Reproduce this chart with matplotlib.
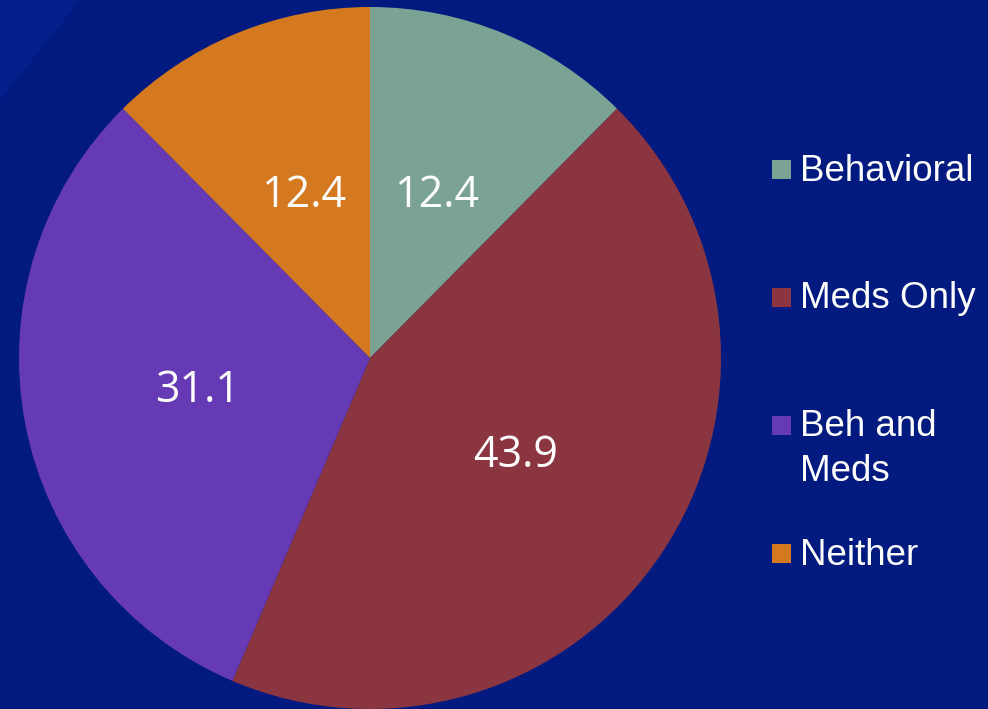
import matplotlib.pyplot as plt
from matplotlib.patches import Polygon, Rectangle

categories = ["Behavioral", "Meds Only", "Beh and\nMeds", "Neither"]
values = [12.4, 43.9, 31.1, 12.4]
colors = ["#7ba394", "#8b3540", "#673ab5", "#d47920"]

W, H = 988, 709
bg = "#001a80"

fig = plt.figure(figsize=(W / 100, H / 100), dpi=100, facecolor=bg)

# faint lighter sheen in the top-left corner
fig.patches.append(Polygon([(0, 1), (80 / W, 1), (0, 1 - 100 / H)], closed=True,
                           transform=fig.transFigure, facecolor="#021f8a",
                           edgecolor="none", zorder=0))

# pie centre (370, 358) px, radius 351 px
cx, cy, r = 370, 358, 351
ax = fig.add_axes([(cx - r) / W, (H - cy - r) / H, 2 * r / W, 2 * r / H])

total = sum(values)
wedges, _, autotexts = ax.pie(
    values, colors=colors, startangle=90, counterclock=False, radius=1,
    autopct=lambda p: f"{p * total / 100:.1f}", pctdistance=0.5,
    wedgeprops=dict(linewidth=0), frame=True,
    textprops=dict(color="white", fontsize=31, family=["Open Sans", "DejaVu Sans"]),
)
ax.set_xlim(-1, 1)
ax.set_ylim(-1, 1)
ax.axis("off")

# legend drawn by hand to keep the uneven row spacing
box_y = [169.5, 297.5, 425.5, 553.5]
baselines = [181, 308, 436, 565]
for name, col, yb, yt in zip(categories, colors, box_y, baselines):
    fig.patches.append(Rectangle((772 / W, 1 - (yb + 9.5) / H), 19 / W, 19 / H,
                                 transform=fig.transFigure, facecolor=col,
                                 edgecolor="none"))
    for i, line in enumerate(name.split("\n")):
        fig.text(800 / W, 1 - (yt + 45 * i) / H, line, color="white", fontsize=26.5,
                 family="Liberation Sans", ha="left", va="baseline")

fig.savefig("out.png", dpi=100, facecolor=bg)
